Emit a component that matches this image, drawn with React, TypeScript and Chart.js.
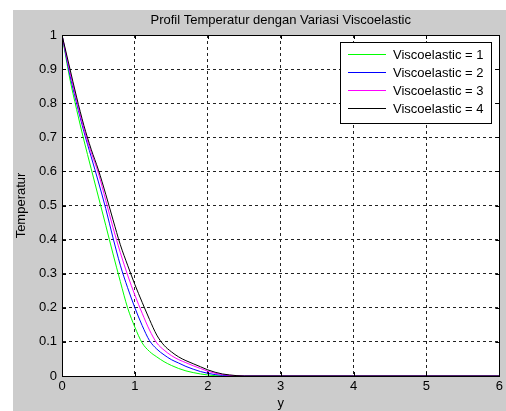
import React, { useEffect, useRef } from "react";
import { Chart, registerables } from "chart.js";

Chart.register(...registerables);

const xValues = [0, 0.1, 0.2, 0.3, 0.4, 0.5, 0.6, 0.7, 0.8, 0.9, 1.0, 1.1, 1.2, 1.3, 1.4, 1.5, 1.6, 1.7, 1.8, 1.9, 2.0, 2.1, 2.2, 2.3, 2.4, 2.5, 3, 4, 5, 6];

const visc1 = [1, 0.88, 0.782, 0.692, 0.608, 0.525, 0.442, 0.358, 0.277, 0.2, 0.143, 0.097, 0.072, 0.056, 0.042, 0.031, 0.022, 0.015, 0.01, 0.006, 0.003, 0.001, 0, 0, 0, 0, 0, 0, 0, 0];
const visc2 = [1, 0.891, 0.8, 0.717, 0.643, 0.569, 0.491, 0.405, 0.325, 0.259, 0.2, 0.148, 0.104, 0.079, 0.062, 0.048, 0.038, 0.028, 0.02, 0.013, 0.008, 0.004, 0.002, 0.001, 0, 0, 0, 0, 0, 0];
const visc3 = [1, 0.9, 0.809, 0.725, 0.656, 0.594, 0.515, 0.435, 0.362, 0.296, 0.237, 0.184, 0.135, 0.097, 0.076, 0.06, 0.048, 0.039, 0.03, 0.022, 0.014, 0.008, 0.004, 0.002, 0.001, 0, 0, 0, 0, 0];
const visc4 = [1, 0.909, 0.818, 0.735, 0.665, 0.604, 0.533, 0.458, 0.385, 0.325, 0.268, 0.216, 0.166, 0.12, 0.09, 0.071, 0.056, 0.045, 0.036, 0.027, 0.018, 0.011, 0.006, 0.003, 0.001, 0, 0, 0, 0, 0];

const seriesLabels = ["Viscoelastic = 1", "Viscoelastic = 2", "Viscoelastic = 3", "Viscoelastic = 4"];
const seriesColors = ["#00ff00", "#0000ff", "#ff00ff", "#000000"];
const seriesData = [visc1, visc2, visc3, visc4];

const titleText = "Profil Temperatur dengan Variasi Viscoelastic";
const xTitle = "y";
const yTitle = "Temperatur";

const FONT = "'Liberation Sans', Arial, sans-serif";
const FS = 13;

const bgPlugin = {
  id: "bgPlugin",
  beforeDraw(chart: any) {
    const { ctx, chartArea } = chart;
    ctx.save();
    ctx.fillStyle = "#ffffff";
    ctx.fillRect(0, 0, chart.width, chart.height);
    ctx.fillStyle = "#cccccc";
    ctx.fillRect(13, 10, chart.width - 13, chart.height - 10);
    ctx.fillStyle = "#ffffff";
    ctx.fillRect(chartArea.left, chartArea.top, chartArea.right - chartArea.left, chartArea.bottom - chartArea.top);
    ctx.restore();
  },
  afterDraw(chart: any) {
    const { ctx, chartArea } = chart;
    const { left, right, top, bottom } = chartArea;
    ctx.save();
    // title centred over plot area
    ctx.fillStyle = "#000";
    ctx.font = FS + "px " + FONT;
    ctx.textAlign = "center";
    ctx.textBaseline = "middle";
    ctx.fillText(titleText, (left + right) / 2, 20);

    ctx.strokeStyle = "#000";
    ctx.lineWidth = 1;
    ctx.setLineDash([]);
    ctx.strokeRect(Math.round(left) + 0.5, Math.round(top) + 0.5, Math.round(right - left), Math.round(bottom - top));
    // inward ticks
    const xs = chart.scales.x;
    const ys = chart.scales.y;
    ctx.beginPath();
    xs.ticks.forEach((t: any) => {
      const px = Math.round(xs.getPixelForValue(t.value)) + 0.5;
      ctx.moveTo(px, bottom);
      ctx.lineTo(px, bottom - 4);
      ctx.moveTo(px, top);
      ctx.lineTo(px, top + 4);
    });
    ys.ticks.forEach((t: any) => {
      const py = Math.round(ys.getPixelForValue(t.value)) + 0.5;
      ctx.moveTo(left, py);
      ctx.lineTo(left + 4, py);
      ctx.moveTo(right, py);
      ctx.lineTo(right - 4, py);
    });
    ctx.stroke();

    // legend box
    const bw = 151;
    const bh = 81;
    const bx = Math.round(right - 8 - bw);
    const by = Math.round(top + 7);
    ctx.fillStyle = "#ffffff";
    ctx.fillRect(bx, by, bw, bh);
    ctx.strokeStyle = "#000";
    ctx.strokeRect(bx + 0.5, by + 0.5, bw, bh);
    ctx.font = FS + "px " + FONT;
    ctx.textBaseline = "middle";
    ctx.textAlign = "left";
    seriesLabels.forEach((lab, i) => {
      const ry = by + 12 + i * 18;
      ctx.fillStyle = seriesColors[i];
      ctx.fillRect(bx + 8, ry, 38, 1);
      ctx.fillStyle = "#000";
      ctx.fillText(lab, bx + 53, ry + 1.5);
    });
    ctx.restore();
  },
};

export default function App() {
  const ref = useRef<HTMLCanvasElement | null>(null);

  useEffect(() => {
    if (!ref.current) return;
    const chart = new Chart(ref.current, {
      type: "line",
      data: {
        labels: xValues,
        datasets: seriesData.map((d, i) => ({
          label: seriesLabels[i],
          data: d.map((v, j) => ({ x: xValues[j], y: v })),
          borderColor: seriesColors[i],
          backgroundColor: seriesColors[i],
          borderWidth: 1,
          pointRadius: 0,
          fill: false,
          cubicInterpolationMode: "monotone" as const,
          order: 4 - i,
        })),
      },
      options: {
        animation: false,
        responsive: false,
        devicePixelRatio: 1,
        layout: { padding: { top: 35, right: 5, bottom: 0, left: 0 } },
        plugins: {
          legend: { display: false },
          tooltip: { enabled: false },
          title: { display: false },
        },
        scales: {
          x: {
            type: "linear",
            min: 0,
            max: 6,
            afterFit: (s: any) => {
              s.height = 35;
            },
            ticks: {
              stepSize: 1,
              color: "#000",
              padding: 3,
              maxRotation: 0,
              font: { family: FONT, size: FS },
            },
            grid: { color: "#222", lineWidth: 1, drawTicks: false },
            border: { display: true, color: "#000", dash: [3, 3] },
            title: {
              display: true,
              text: xTitle,
              color: "#000",
              font: { family: FONT, size: FS },
              padding: { top: 0, bottom: 0 },
            },
          },
          y: {
            type: "linear",
            min: 0,
            max: 1,
            afterFit: (s: any) => {
              s.width = 62;
            },
            ticks: {
              stepSize: 0.1,
              color: "#000",
              padding: 5,
              font: { family: FONT, size: FS },
              callback: (v: any) => String(Math.round(Number(v) * 10) / 10),
            },
            grid: { color: "#222", lineWidth: 1, drawTicks: false },
            border: { display: true, color: "#000", dash: [3, 3] },
            title: {
              display: true,
              text: yTitle,
              color: "#000",
              font: { family: FONT, size: FS },
              padding: { top: 14, bottom: 0 },
            },
          },
        },
      },
      plugins: [bgPlugin],
    });
    return () => chart.destroy();
  }, []);

  return (
    <div style={{ position: "fixed", left: 0, top: 0, width: 506, height: 411 }}>
      <canvas ref={ref} width={506} height={411} style={{ display: "block", width: 506, height: 411 }} />
    </div>
  );
}
